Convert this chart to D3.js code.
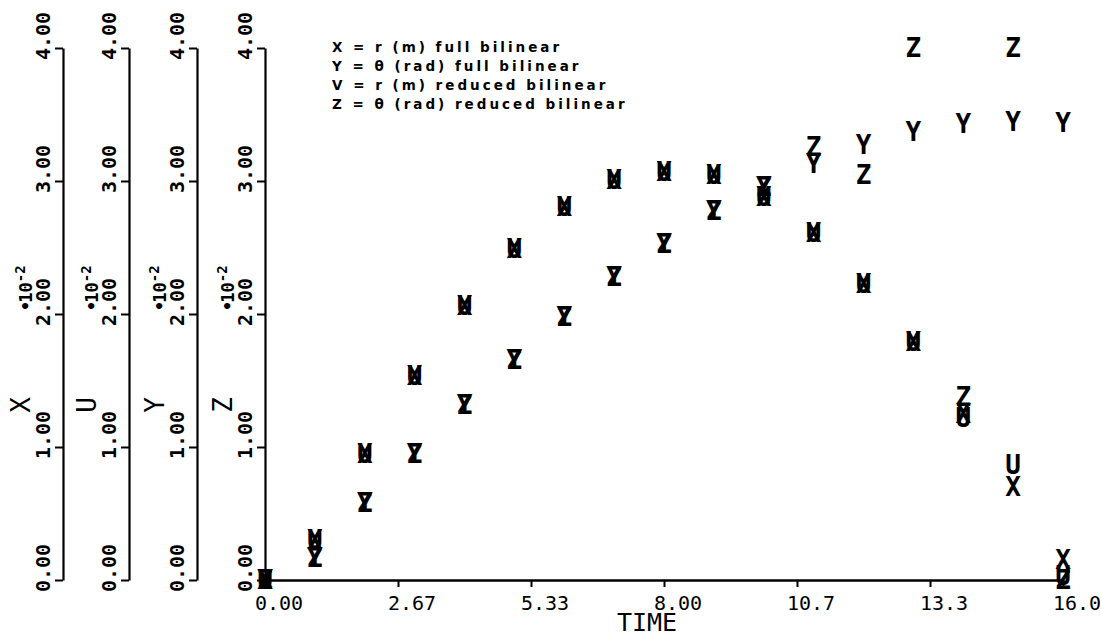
<!DOCTYPE html>
<html>
<head>
<meta charset="utf-8">
<script src="https://cdn.jsdelivr.net/npm/d3@7/dist/d3.min.js"></script>
<style>
  html, body { margin: 0; padding: 0; background: #fff; }
  svg { display: block; }
</style>
</head>
<body>
<div id="chart"></div>
<script>
// ---- data (values in units of 1e-2) ----
const time = [0,1,2,3,4,5,6,7,8,9,10,11,12,13,14,15,16];
const seriesX = [0,0.30,0.95,1.54,2.06,2.49,2.81,3.01,3.07,3.05,2.88,2.61,2.23,1.79,1.25,0.70,0.15];
const seriesU = [0,0.30,0.95,1.54,2.06,2.49,2.81,3.01,3.07,3.05,2.88,2.61,2.23,1.79,1.22,0.87,0.03];
const seriesY = [0,0.17,0.58,0.95,1.32,1.66,1.98,2.28,2.53,2.78,2.96,3.13,3.27,3.37,3.43,3.45,3.44];
const seriesZ = [0,0.17,0.58,0.95,1.32,1.66,1.98,2.28,2.53,2.78,2.96,3.26,3.05,4.00,1.38,4.00,0.00];
const yTickValues = [0,1,2,3,4];
const yTickLabels = ["0.00","1.00","2.00","3.00","4.00"];
const xTickValues = [0, 8/3, 16/3, 8, 32/3, 40/3, 16];
const xTickLabels = ["0.00","2.67","5.33","8.00","10.7","13.3","16.0"];
const axisNames = ["X","U","Y","Z"];
const legendLines = [
  "X = r (m) full bilinear",
  "Y = \u03b8 (rad) full bilinear",
  "V = r (m) reduced bilinear",
  "Z = \u03b8 (rad) reduced bilinear"
];

const W = 1101, H = 636;
const svg = d3.select("#chart").append("svg").attr("width", W).attr("height", H);
svg.append("rect").attr("width", W).attr("height", H).attr("fill", "#fff");

const x = d3.scaleLinear().domain([0,16]).range([265,1063]);
const y = d3.scaleLinear().domain([0,4]).range([580,48]);
const axisXs = [63,129,197,265];

const tickFont = "'DejaVu Sans Mono', 'Liberation Mono', monospace";

// ---- vertical axes ----
axisXs.forEach((ax, i) => {
  const g = svg.append("g").attr("transform", `translate(${ax},0)`)
    .call(d3.axisLeft(y).tickValues(yTickValues).tickSize(8).tickSizeOuter(0).tickFormat(""));
  g.select(".domain").attr("stroke", "#000").attr("stroke-width", 2.2);
  g.selectAll(".tick line").attr("stroke", "#000").attr("stroke-width", 2);

  yTickValues.forEach((v, k) => {
    const px = ax - 13, py = y(v) + 12;
    svg.append("text")
      .attr("x", px).attr("y", py)
      .attr("transform", `rotate(-90,${px},${py})`)
      .attr("font-family", tickFont).attr("font-size", 20)
      .attr("font-weight", "bold")
      .attr("fill", "#000")
      .text(yTickLabels[k]);
  });

  // axis name
  const nx = ax - 33, ny = 405;
  svg.append("text")
    .attr("x", nx).attr("y", ny)
    .attr("transform", `rotate(-90,${nx},${ny})`)
    .attr("text-anchor", "middle")
    .attr("font-family", tickFont).attr("font-size", 26)
    .attr("fill", "#000")
    .text(axisNames[i]);

  // scale factor label
  const sx = ax - 31, sy = 311;
  const t = svg.append("text")
    .attr("x", sx).attr("y", sy)
    .attr("transform", `rotate(-90,${sx},${sy})`)
    .attr("font-family", tickFont).attr("font-size", 17)
    .attr("font-weight", "bold")
    .attr("fill", "#000");
  t.append("tspan").text("\u2022");
  t.append("tspan").attr("dx", -2).text("10");
  t.append("tspan").attr("dy", -7).attr("font-size", 14).text("-2");
});

// ---- horizontal (time) axis ----
const gx = svg.append("g").attr("transform", "translate(0,580)")
  .call(d3.axisBottom(x).tickValues(xTickValues).tickSize(7).tickSizeOuter(0).tickFormat(""));
gx.select(".domain").attr("stroke", "#000").attr("stroke-width", 2.4);
gx.selectAll(".tick line").attr("stroke", "#000").attr("stroke-width", 2);

xTickValues.forEach((v, k) => {
  svg.append("text")
    .attr("x", x(v) - 10).attr("y", 610)
    .attr("font-family", tickFont).attr("font-size", 20)
    .attr("fill", "#000")
    .text(xTickLabels[k]);
});
svg.append("text")
  .attr("x", 647).attr("y", 631)
  .attr("text-anchor", "middle")
  .attr("font-family", tickFont).attr("font-size", 25)
  .attr("fill", "#000")
  .text("TIME");

// ---- markers ----
const markerFont = "'DejaVu Sans Mono', 'Liberation Mono', monospace";
const series = [
  { sym: "X", vals: seriesX },
  { sym: "Y", vals: seriesY },
  { sym: "U", vals: seriesU },
  { sym: "Z", vals: seriesZ }
];
series.forEach(s => {
  svg.append("g").selectAll("text")
    .data(time.map((t, i) => ({ t, v: s.vals[i] })))
    .join("text")
    .attr("x", d => x(d.t))
    .attr("y", d => y(d.v))
    .attr("dy", "0.36em")
    .attr("text-anchor", "middle")
    .attr("font-family", markerFont)
    .attr("font-size", 26)
    .attr("font-weight", "bold")
    .attr("fill", "#000")
    .text(s.sym);
});

// ---- legend ----
legendLines.forEach((l, i) => {
  svg.append("text")
    .attr("x", 332).attr("y", 52 + i * 19)
    .attr("font-family", "'DejaVu Sans', sans-serif")
    .attr("font-size", 13.5)
    .attr("font-weight", "bold")
    .attr("letter-spacing", 3)
    .attr("fill", "#000")
    .text(l);
});
</script>
</body>
</html>
